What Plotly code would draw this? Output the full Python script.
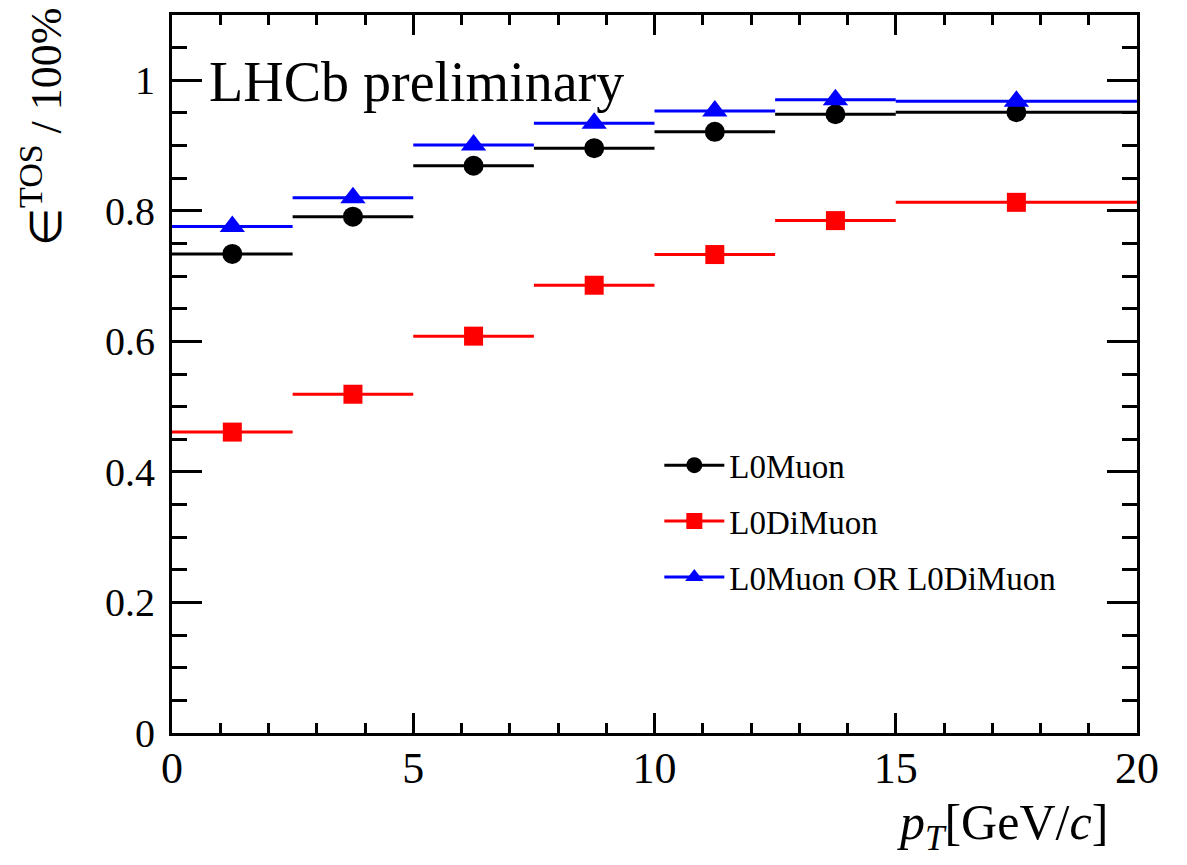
import plotly.graph_objects as go

# Data
bin_centers = [1.25, 3.75, 6.25, 8.75, 11.25, 13.75, 17.5]
bin_halfwidths = [1.25, 1.25, 1.25, 1.25, 1.25, 1.25, 2.5]
eff_l0muon = [0.734, 0.791, 0.869, 0.896, 0.921, 0.948, 0.951]
eff_l0dimuon = [0.461, 0.519, 0.608, 0.686, 0.733, 0.785, 0.813]
eff_or = [0.776, 0.820, 0.901, 0.934, 0.953, 0.970, 0.968]
err_l0muon = [0.004, 0.004, 0.004, 0.004, 0.004, 0.004, 0.004]
err_l0dimuon = [0.004, 0.004, 0.004, 0.004, 0.004, 0.004, 0.004]
err_or = [0.004, 0.004, 0.004, 0.004, 0.004, 0.004, 0.004]
names = ["L0Muon", "L0DiMuon", "L0Muon OR L0DiMuon"]
colors = ["black", "red", "blue"]
symbols = ["circle", "square", "triangle-up"]
msizes = [20, 19, 22]

FONT = "Liberation Serif"

fig = go.Figure()
series = [eff_l0muon, eff_l0dimuon, eff_or]
errs = [err_l0muon, err_l0dimuon, err_or]
for i in range(3):
    fig.add_trace(go.Scatter(
        x=bin_centers, y=series[i], mode="markers",
        marker=dict(symbol=symbols[i], size=msizes[i], color=colors[i]),
        error_x=dict(type="data", array=bin_halfwidths, color=colors[i], thickness=3, width=0),
        error_y=dict(type="data", array=errs[i], color=colors[i], thickness=3, width=0),
        showlegend=False, name=names[i]))
for i in range(3):
    fig.add_trace(go.Scatter(
        x=[None], y=[None], mode="lines+markers",
        marker=dict(symbol=symbols[i], size=msizes[i], color=colors[i]),
        line=dict(color=colors[i], width=3),
        name=names[i], legendgroup=names[i], showlegend=True))

axis_common = dict(
    showgrid=False, zeroline=False, showline=True, linecolor="black", linewidth=3,
    mirror="allticks", ticks="inside", tickcolor="black", tickwidth=3,
)

fig.update_xaxes(**axis_common, range=[0, 20], tickvals=[0, 5, 10, 15, 20],
                 ticklen=20, minor=dict(dtick=1, ticklen=10, tickwidth=3, ticks="inside", tickcolor="black"),
                 tickfont=dict(family=FONT, size=44, color="black"), ticklabelstandoff=-6)
fig.update_yaxes(**axis_common, range=[0, 1.1], tickvals=[0, 0.2, 0.4, 0.6, 0.8, 1],
                 ticktext=["0", "0.2", "0.4", "0.6", "0.8", "1"],
                 ticklen=30, minor=dict(dtick=0.05, ticklen=15, tickwidth=3, ticks="inside", tickcolor="black"),
                 tickfont=dict(family=FONT, size=40, color="black"), ticklabelstandoff=6)

fig.update_layout(
    width=1187, height=865,
    margin=dict(l=172, r=50, t=13, b=132),
    plot_bgcolor="white", paper_bgcolor="white",
    font=dict(family=FONT, color="black"),
    legend=dict(x=0.505, y=0.412, xanchor="left", yanchor="top",
                font=dict(family=FONT, size=33, color="black"),
                bgcolor="rgba(0,0,0,0)", tracegroupgap=10, itemwidth=60),
    annotations=[
        dict(text="LHCb preliminary", xref="paper", yref="paper", x=0.036, y=0.907,
             xanchor="left", yanchor="middle", showarrow=False,
             font=dict(family=FONT, size=56, color="black")),
        dict(text="<i>p</i><sub><i>T</i></sub>[GeV/<i>c</i>]", xref="paper", yref="paper",
             x=0.972, y=-0.13, xanchor="right", yanchor="middle", showarrow=False,
             font=dict(family=FONT, size=50, color="black")),
        dict(text="∈<sup><span style='font-size:34px'>TOS</span></sup> / 100%", xref="paper", yref="paper",
             x=-0.135, y=0.845, xanchor="center", yanchor="middle", textangle=-90,
             showarrow=False, font=dict(family=FONT, size=44, color="black")),
    ],
)

fig.write_html("out.html")
